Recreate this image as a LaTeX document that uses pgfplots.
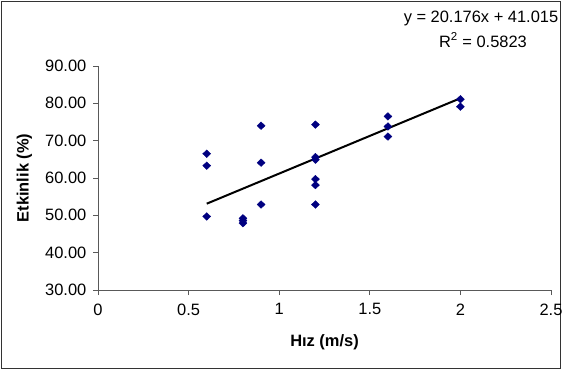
\documentclass[border=0pt]{standalone}
\usepackage{pgfplots}
\pgfplotsset{compat=1.18}
\usepackage{fontspec}
\setmainfont{Liberation Sans}
\definecolor{navy}{RGB}{0,0,128}
\newcommand{\fs}{\fontsize{16.5}{19}\selectfont}
\begin{document}
\fs
\begin{tikzpicture}[x=1bp,y=1bp]
\useasboundingbox (0,0) rectangle (562,370);
\draw[line width=1.3bp, black!80] (1.5,1.5) rectangle (560.5,368.5);
\begin{axis}[
  at={(98bp,80bp)}, anchor=south west,
  scale only axis, width=453bp, height=224bp,
  xmin=0, xmax=2.5, ymin=30, ymax=90,
  xtick={0,0.5,1,1.5,2,2.5},
  ytick={30,40,50,60,70,80,90},
  axis lines*=left,
  axis line style={black!65, line width=0.9bp},
  tick style={black!65, line width=0.9bp},
  tick align=outside,
  major tick length=5bp,
  /pgf/number format/assume math mode=true,
  yticklabel style={/pgf/number format/fixed, /pgf/number format/fixed zerofill, /pgf/number format/precision=2, font=\fs, xshift=-1bp},
  xticklabel style={/pgf/number format/fixed, font=\fs, yshift=-3bp},
  xlabel={\bfseries Hız (m/s)},
  ylabel={\bfseries Etkinlik (\%)},
  xlabel style={font=\fs, yshift=-8bp},
  ylabel style={font=\fs, yshift=2bp},
  clip=false,
]
\addplot[only marks, mark=diamond*, mark size=3.8bp, color=navy, mark options={xscale=1.4}] coordinates {
(0.6,66.5) (0.6,63.3) (0.6,49.7)
(0.8,49.2) (0.8,48.6) (0.8,47.9)
(0.9,74.0) (0.9,64.1) (0.9,52.9)
(1.2,74.3) (1.2,65.6) (1.2,64.9) (1.2,59.7) (1.2,58.1) (1.2,52.9)
(1.6,76.5) (1.6,73.8) (1.6,71.1)
(2.0,81.1) (2.0,79.1)
};
\addplot[black, line width=2bp] coordinates {(0.6,53.12) (2.0,81.367)};
\end{axis}
\node at (481,352) {y = 20.176x + 41.015};
\node at (483,330) {R\textsuperscript{2} = 0.5823};
\end{tikzpicture}
\end{document}
